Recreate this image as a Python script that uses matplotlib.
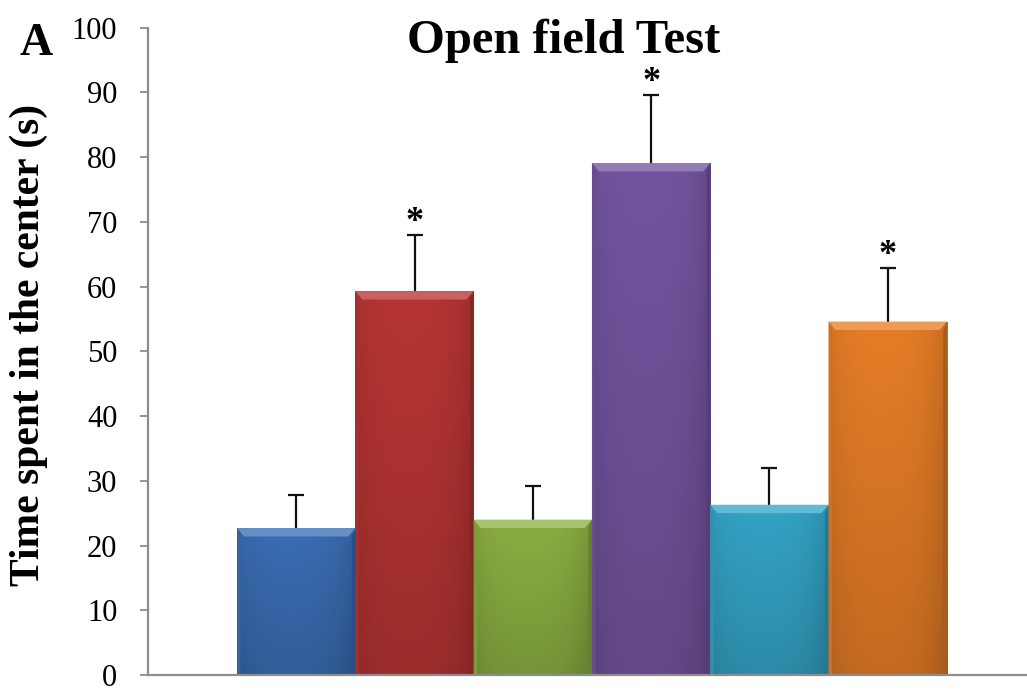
import numpy as np
import matplotlib
matplotlib.use("Agg")
import matplotlib.pyplot as plt
from matplotlib.colors import to_rgb
from matplotlib.patches import Polygon

# Group means and upper SEM bars (seconds in the centre zone)
groups = ["G1", "G2", "G3", "G4", "G5", "G6"]
means = [22.7, 59.3, 24.0, 79.1, 26.3, 54.6]
sem = [5.1, 8.6, 5.2, 10.5, 5.7, 8.3]
significant = [False, True, False, True, False, True]
colors = ["#3b6fb6", "#b93634", "#8db143", "#7556a2", "#35a6c8", "#e97f27"]

plt.rcParams["font.family"] = ["Liberation Serif", "DejaVu Serif"]

fig = plt.figure(figsize=(10.27, 6.93), dpi=100)
ax = fig.add_axes([0.144, 0.026, 0.856, 0.934])

x = np.arange(len(groups))
width = 1.0
bars = ax.bar(x, means, width=width, color=colors, edgecolor="none", zorder=2)


def shade(c, f):
    r = np.array(to_rgb(c))
    if f >= 0:
        return r + (1 - r) * f
    return r * (1 + f)


# Soft gradient fill inside each bar
for b, c in zip(bars, colors):
    x0, y0 = b.get_x(), b.get_y()
    w, h = b.get_width(), b.get_height()
    ny, nx = 64, 64
    yy = np.linspace(0, 1, ny)[:, None]        # 0 bottom -> 1 top
    xx = np.linspace(0, 1, nx)[None, :]
    f = -0.16 + 0.14 * yy - 0.10 * (np.abs(xx - 0.45) * 2) ** 3
    base = np.array(to_rgb(c))
    img = np.where(f[..., None] >= 0,
                   base + (1 - base) * f[..., None],
                   base * (1 + f[..., None]))
    img = np.clip(img, 0, 1)
    im = ax.imshow(img, extent=[x0, x0 + w, y0, y0 + h], origin="lower",
                   aspect="auto", zorder=2.1, interpolation="bilinear")
    im.set_clip_path(b)
    # bevelled top edge and darker side edges
    bev_h = 1.3
    bev_w = 0.06
    top = y0 + h
    ax.add_patch(Polygon([[x0, top], [x0 + w, top], [x0 + w - bev_w, top - bev_h],
                          [x0 + bev_w, top - bev_h]], closed=True,
                         facecolor=shade(c, 0.22), edgecolor="none", zorder=2.2))
    ax.add_patch(Polygon([[x0, y0], [x0 + bev_w * 0.5, y0], [x0 + bev_w * 0.5, top - bev_h],
                          [x0, top]], closed=True,
                         facecolor=shade(c, -0.12), edgecolor="none", zorder=2.2))
    ax.add_patch(Polygon([[x0 + w, y0], [x0 + w - bev_w * 0.5, y0], [x0 + w - bev_w * 0.5, top - bev_h],
                          [x0 + w, top]], closed=True,
                         facecolor=shade(c, -0.28), edgecolor="none", zorder=2.2))

# Upper error bars only (lower cap hidden)
eb = ax.errorbar(x, means, yerr=[np.zeros(len(sem)), sem], fmt="none",
                 ecolor="#111111", elinewidth=1.6, capsize=6, capthick=1.6, zorder=1.5)
caps = eb.lines[1]
if len(caps) == 2:
    caps[0].set_visible(False)

# Significance markers
for xi, m, s, sig in zip(x, means, sem, significant):
    if sig:
        ax.annotate("*", (xi, m + s), xytext=(0, 3), textcoords="offset points",
                    ha="center", va="baseline", fontsize=26, fontweight="bold")

ax.set_xlim(-1.254, 6.178)
ax.set_ylim(0, 100)
ax.set_yticks(np.arange(0, 101, 10))
ax.set_xticks([])
ax.tick_params(axis="y", direction="out", length=6, width=1.3, color="#8c8c8c",
               labelsize=22, pad=16)
for side in ("top", "right"):
    ax.spines[side].set_visible(False)
for side in ("left", "bottom"):
    ax.spines[side].set_color("#8c8c8c")
    ax.spines[side].set_linewidth(1.6)

ax.set_ylabel("Time spent in the center (s)", fontsize=30, fontweight="bold")
ax.yaxis.set_label_coords(-0.114, 0.51)
fig.text(0.549, 0.9235, "Open field Test", fontsize=35, fontweight="bold",
         ha="center", va="baseline")
fig.text(0.019, 0.9206, "A", fontsize=33, fontweight="bold", ha="left", va="baseline")

fig.savefig("out.png", dpi=100)
